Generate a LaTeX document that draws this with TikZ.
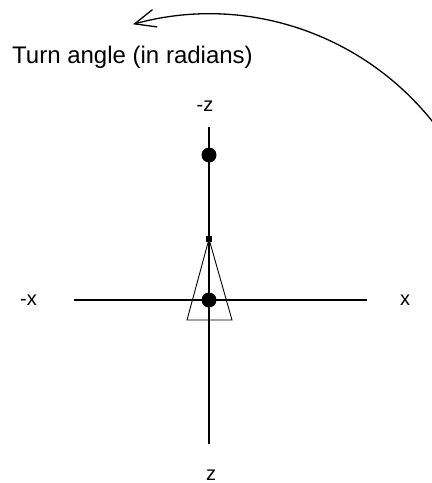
\documentclass[tikz,border=0pt]{standalone}
\usepackage{fontspec}
\setmainfont{Liberation Sans}
\usetikzlibrary{arrows.meta}
\begin{document}
\begin{tikzpicture}[x=1pt,y=-1pt,
  axis/.style={line width=1.3pt},
  thin line/.style={line width=0.9pt},
  dot/.style={circle,fill=black,inner sep=0pt,minimum size=15pt},
  apex/.style={rectangle,fill=black,inner sep=0pt,minimum size=6pt},
  lbl/.style={inner sep=0pt,font=\fontsize{20}{24}\selectfont},
  title/.style={inner sep=0pt,font=\fontsize{24}{28}\selectfont}]
\useasboundingbox (0,0) rectangle (432,483);
\clip (0,0) rectangle (432,483);
% axes
\coordinate (O) at (209,300);
\coordinate (top) at (209,127);
\coordinate (bot) at (209,444);
\coordinate (left) at (74,300);
\coordinate (right) at (367,300);
\draw[axis] (top) -- (bot);
\draw[axis] (left) -- (right);
% triangle
\coordinate (A) at (209,239);
\coordinate (BL) at (187,320);
\coordinate (BR) at (232,320);
\draw[thin line] (A) -- (BL) -- (BR) -- cycle;
\node[apex] (ap) at (A) {};
% dots
\node[dot] (d1) at (209,155) {};
\node[dot] (d2) at (O) {};
% labels
\node[lbl,anchor=base] (mz) at (205,111) {-z};
\node[lbl,anchor=base west] (mx) at (20,305) {-x};
\node[lbl,anchor=base west] (px) at (400,305) {x};
\node[lbl,anchor=base] (pz) at (211,480) {z};
\node[title,anchor=base west] (t) at (12,63.5) {Turn angle (in radians)};
% turn arc
\draw[line width=1.3pt,-{Straight Barb[length=21pt,width=18pt,line width=1.3pt]}]
  ([shift={(30:286pt)}]O) arc[start angle=30,end angle=105.4,radius=286pt];
\end{tikzpicture}
\end{document}
